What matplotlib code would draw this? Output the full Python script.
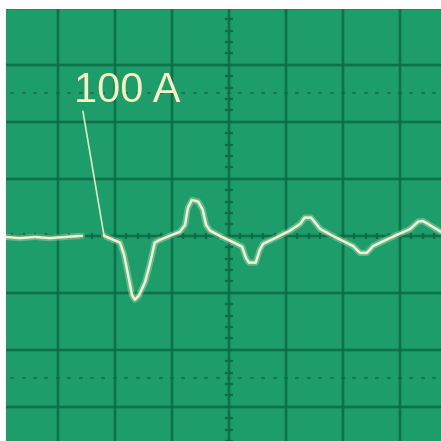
import numpy as np
from matplotlib import pyplot as plt

# trace, in graticule divisions (0,0 = screen centre)
base_t = [-3.91, -3.67, -3.40, -3.14, -2.88, -2.58]
base_v = [-0.02, -0.04, -0.02, -0.04, -0.02, 0.00]

spike_t = [-2.56, -2.19]
spike_v = [2.18, 0.00]

trace_t = [-2.19, -1.91, -1.84, -1.77, -1.70, -1.65, -1.58, -1.47, -1.39, -1.30,
           -1.21, -1.04, -0.86, -0.77, -0.72, -0.65, -0.54, -0.46, -0.40, -0.33,
           -0.16, 0.07, 0.23, 0.30, 0.35, 0.47, 0.54, 0.60, 0.81, 1.07,
           1.25, 1.33, 1.44, 1.53, 1.60, 1.82, 2.18, 2.30, 2.42, 2.53,
           2.82, 3.18, 3.32, 3.40, 3.49, 3.72]
trace_v = [0.00, -0.12, -0.33, -0.68, -1.04, -1.12, -1.05, -0.81, -0.51, -0.12,
           -0.07, 0.00, 0.07, 0.19, 0.49, 0.63, 0.60, 0.46, 0.19, 0.09,
           0.00, -0.11, -0.19, -0.39, -0.47, -0.47, -0.25, -0.14, -0.04, 0.09,
           0.21, 0.32, 0.32, 0.21, 0.12, 0.00, -0.18, -0.30, -0.30, -0.18,
           -0.04, 0.12, 0.25, 0.26, 0.21, 0.07]

label = '100 A'
divs = np.arange(-4, 5)
marker_levels = [2.5, -2.5]

bg = '#1c9d6a'
grid = '#0d6c45'
beam = '#f3f0d2'

fig = plt.figure(figsize=(4.41, 4.41), dpi=100)
ax = fig.add_axes([6/441, 0, 435/441, 432/441])
ax.set_facecolor(bg)
ax.set_xlim(-3.91, 3.72)
ax.set_ylim(-3.60, 3.98)

# graticule
for d in divs:
  ax.axvline(d, color=grid, lw=2.8, alpha=0.3, zorder=1)
  ax.axvline(d, color=grid, lw=1.2, zorder=1)
  ax.axhline(d, color=grid, lw=2.8, alpha=0.3, zorder=1)
  ax.axhline(d, color=grid, lw=1.2, zorder=1)

minor = np.arange(-4, 4.01, 0.2)
ax.plot(minor, np.zeros_like(minor), '|', color=grid, ms=5, mew=1.6, zorder=1)
ax.plot(np.zeros_like(minor), minor, '_', color=grid, ms=6, mew=1.6, zorder=1)
for lv in marker_levels:
  ax.plot(minor, np.full_like(minor, lv), '_', color=grid, ms=3, mew=1.4, alpha=0.7, zorder=1)

# beam, with a soft glow underneath
for t, v in [(base_t, base_v), (trace_t, trace_v)]:
  ax.plot(t, v, color='#d8f0c8', lw=4.5, alpha=0.35, solid_capstyle='round', zorder=2)
  ax.plot(t, v, color=beam, lw=1.8, solid_capstyle='round', solid_joinstyle='round', zorder=3)
ax.plot(spike_t, spike_v, color=beam, lw=1.2, alpha=0.9, zorder=3)

ax.text(-2.72, 2.35, label, color='#f6f0c4', fontsize=30, family='Liberation Sans',
        ha='left', va='baseline', zorder=4)

ax.set_xticks([])
ax.set_yticks([])
for s in ax.spines.values():
  s.set_visible(False)

plt.savefig('out.png', dpi=100)
